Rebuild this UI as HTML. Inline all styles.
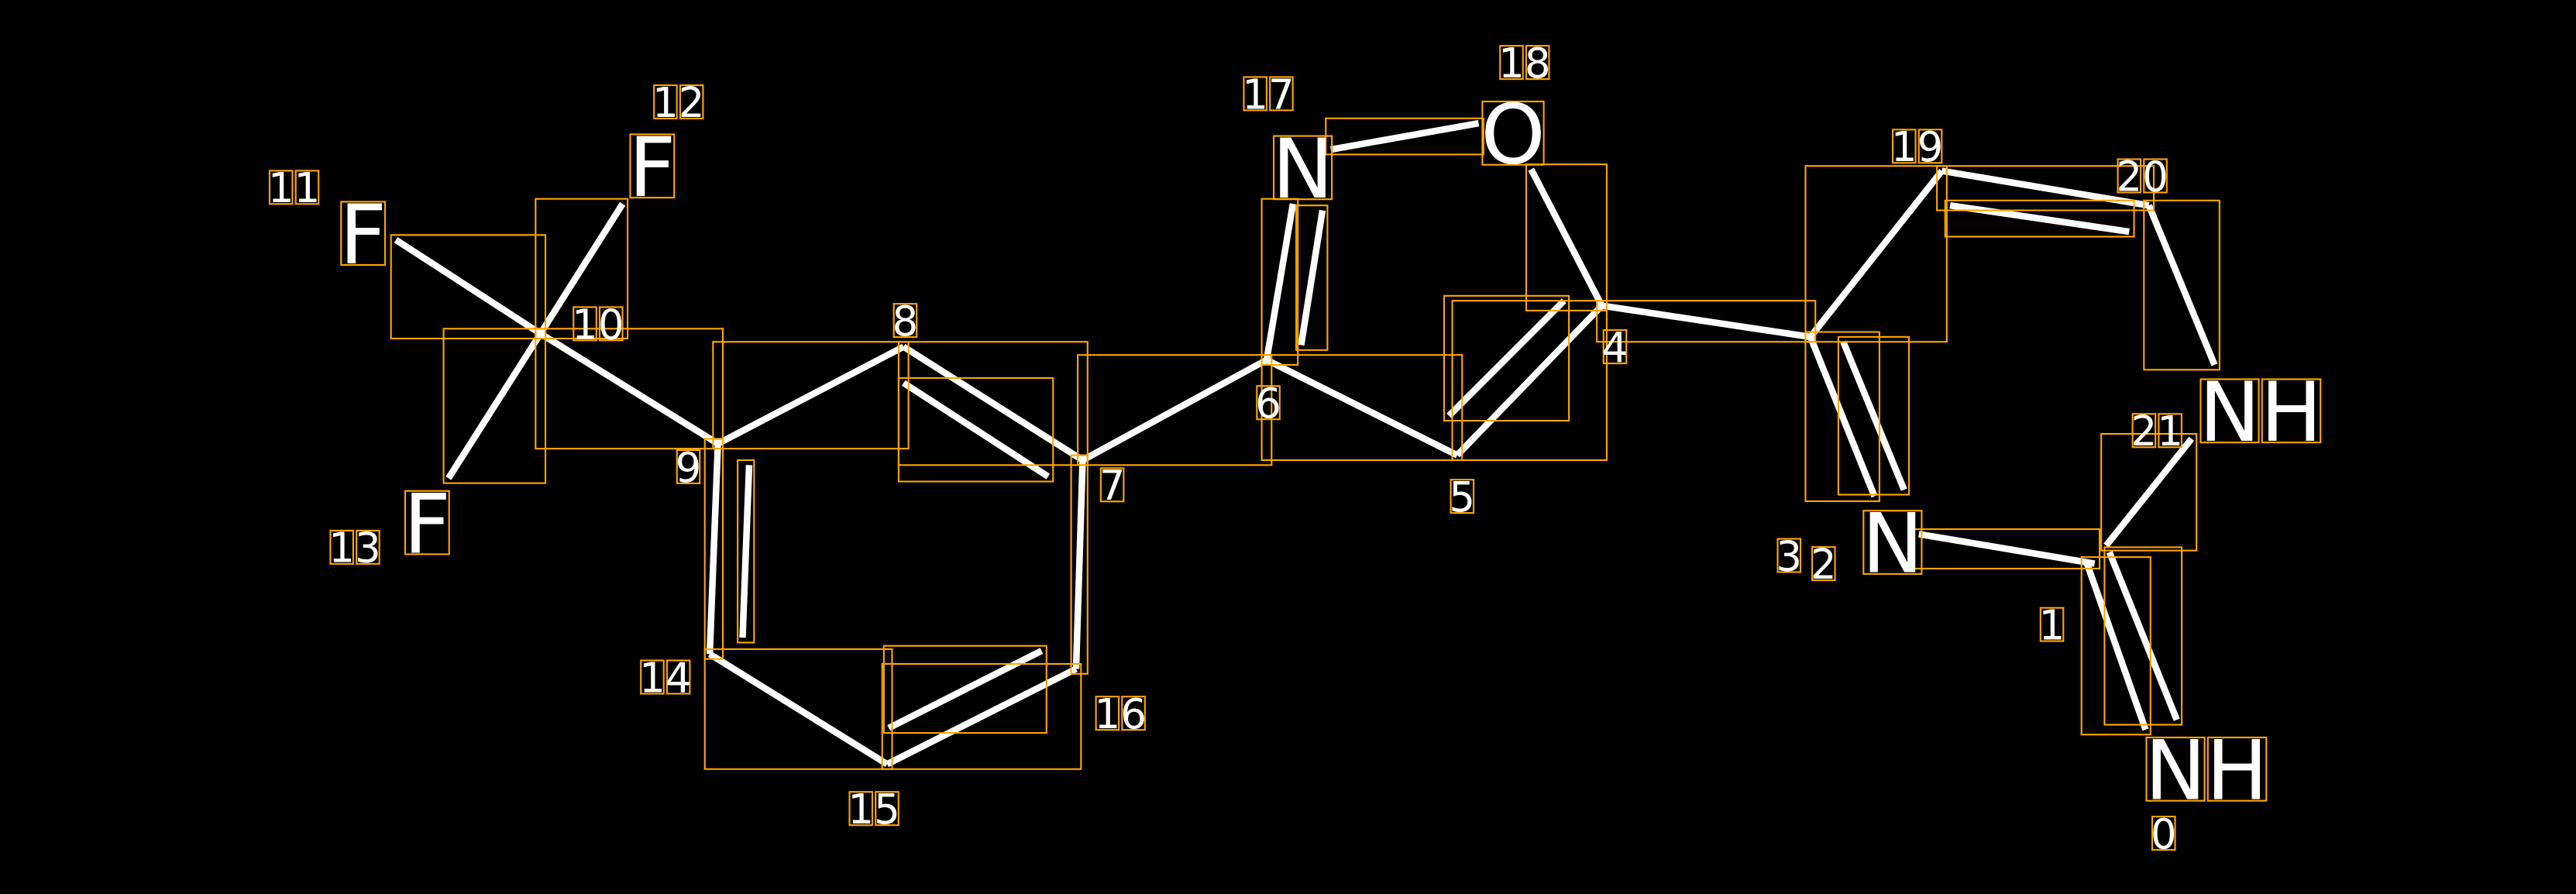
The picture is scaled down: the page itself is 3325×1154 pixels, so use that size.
<!DOCTYPE html>
<html><head><meta charset="utf-8"><style>
html,body{margin:0;padding:0;background:#000;width:3325px;height:1154px;overflow:hidden}
svg{display:block}
text{font-family:"DejaVu Sans","Liberation Sans",sans-serif;fill:#fff}
</style></head><body>
<svg id="s" width="3325" height="1154" viewBox="0 0 1568 544" preserveAspectRatio="none">
<rect width="1568" height="544" fill="#000"/>
<g id="bonds" stroke="#fff" stroke-width="4" stroke-linecap="butt"></g>
<g id="boxes" fill="none" stroke="#ffa500" stroke-width="1"></g>
<g id="labels"></g>
</svg>
<script>
var B=[
[241,146,329,203],[379,124,329,203],[273,291,329,203],[329,203,437,270],
[437,270,550,211],[550,211,659,280],[550,233,638,290],[659,280,771,219],
[771,219,787,124],[805,128,792,210],[810,91,900,75],[932,103,975,186],
[771,219,887,277],[887,277,975,186],[882,253,952,183],[975,186,1102,205],
[1102,205,1182,104],[1182,104,1308,125],[1187,125,1296,141],[1308,125,1348,222],
[1282,332,1334,267],[1168,325,1275,343],[1270,342,1306,444],[1284,336,1325,438],
[1102,205,1141,302],[1122,208,1159,298],[437,270,432,398],[456,283,452,388],
[432,398,540,465],[540,465,655,407],[541,443,634,396],[655,407,659,280]];
var ns="http://www.w3.org/2000/svg",bg=document.getElementById('bonds'),bx=document.getElementById('boxes'),lg=document.getElementById('labels');
function el(t,a,p){var e=document.createElementNS(ns,t);for(var k in a)e.setAttribute(k,a[k]);p.appendChild(e);return e;}
B.forEach(function(b){el('line',{x1:b[0],y1:b[1],x2:b[2],y2:b[3]},bg);
 var x=Math.min(b[0],b[2])-3,y=Math.min(b[1],b[3])-3;el('rect',{x:x,y:y,width:Math.abs(b[2]-b[0])+6,height:Math.abs(b[3]-b[1])+6},bx);});
var L=[["F",221,142,50],["F",397,101,50],["F",260,318,50],["N",793,102,50],["O",921,81,50],["NH",1376,250,50],["N",1152,330,50],["NH",1343,468,50],
["0",1317,507,25],["1",1249,380,25],["2",1110,343,25],["3",1089,338,25],["4",983,211,25],["5",890,302,25],["6",772,245,25],["7",677,295,25],["8",551,195,25],["9",419,284,25],["10",364,197,25],["11",179,114,25],["12",413,62,25],["13",216,333,25],["14",405,412,25],["15",532,492,25],["16",682,434,25],["17",772,57,25],["18",928,38,25],["19",1167,89,25],["20",1304,107,25],["21",1313,262,25]];
L.forEach(function(l){var t=el('text',{x:l[1],y:l[2]+l[3]*0.365,'text-anchor':'middle','font-size':l[3]},lg);t.textContent=l[0];
 try{for(var i=0;i<l[0].length;i++){var r=t.getExtentOfChar(i);var ch=l[3]*0.73;el('rect',{x:r.x+1,y:l[2]-ch/2-1,width:r.width-2,height:ch+2},bx);}}catch(e){}});
</script>
</body></html>
